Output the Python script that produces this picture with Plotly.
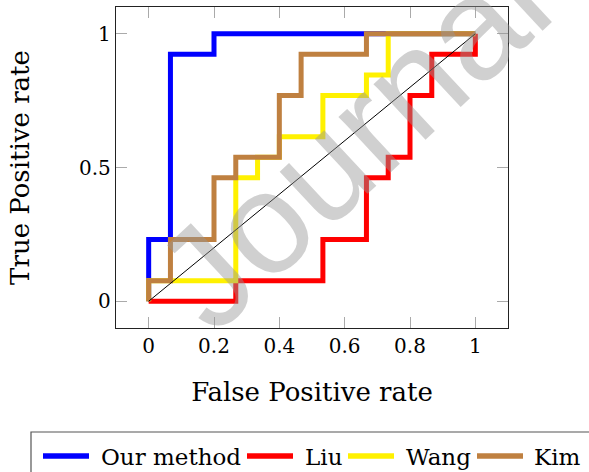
import plotly.graph_objects as go

# ---- data ----
series_names = ["Our method", "Liu", "Wang", "Kim"]
series_colors = ["#0000ff", "#ff0000", "#fff100", "#bf8040"]

ours_fpr = [0, 0, 1/15, 1/15, 3/15, 3/15, 1]
ours_tpr = [0, 3/13, 3/13, 12/13, 12/13, 1, 1]

liu_fpr = [0, 4/15, 4/15, 8/15, 8/15, 10/15, 10/15, 11/15, 11/15, 12/15, 12/15, 13/15, 13/15, 1, 1]
liu_tpr = [0, 0, 1/13, 1/13, 3/13, 3/13, 6/13, 6/13, 7/13, 7/13, 10/13, 10/13, 12/13, 12/13, 1]

wang_fpr = [0, 0, 4/15, 4/15, 5/15, 5/15, 6/15, 6/15, 8/15, 8/15, 10/15, 10/15, 11/15, 11/15, 1]
wang_tpr = [0, 1/13, 1/13, 6/13, 6/13, 7/13, 7/13, 8/13, 8/13, 10/13, 10/13, 11/13, 11/13, 1, 1]

kim_fpr = [0, 0, 1/15, 1/15, 3/15, 3/15, 4/15, 4/15, 6/15, 6/15, 7/15, 7/15, 10/15, 10/15, 1]
kim_tpr = [0, 1/13, 1/13, 3/13, 3/13, 6/13, 6/13, 7/13, 7/13, 10/13, 10/13, 12/13, 12/13, 1, 1]

diag_x = [0, 1]
diag_y = [0, 1]

x_ticks = [0, 0.2, 0.4, 0.6, 0.8, 1]
x_tick_labels = ["0", "0.2", "0.4", "0.6", "0.8", "1"]
y_ticks = [0, 0.5, 1]
y_tick_labels = ["0", "0.5", "1"]

# ---- figure geometry ----
W, H = 589, 472
ML, MR, MT, MB = 116, 81, 7, 144
PW, PH = W - ML - MR, H - MT - MB


def px(xp):
    return (xp - ML) / PW


def py(yp):
    return (H - MB - yp) / PH


SERIF = "DejaVu Serif"

fig = go.Figure()
all_x = [ours_fpr, liu_fpr, wang_fpr, kim_fpr]
all_y = [ours_tpr, liu_tpr, wang_tpr, kim_tpr]
for name, col, xs, ys in zip(series_names, series_colors, all_x, all_y):
    fig.add_trace(go.Scatter(x=xs, y=ys, mode="lines", name=name,
                             line=dict(color=col, width=5), showlegend=False))
fig.add_trace(go.Scatter(x=diag_x, y=diag_y, mode="lines", showlegend=False,
                         line=dict(color="black", width=1)))

axis_common = dict(
    range=[-0.1, 1.1], showgrid=False, zeroline=False,
    showline=True, linecolor="#222", linewidth=1.3, mirror="allticks",
    ticks="inside", ticklen=11, tickcolor="#aaaaaa", tickwidth=1.3,
    tickfont=dict(family=SERIF, size=20, color="black"),
)
fig.update_xaxes(**axis_common, tickvals=x_ticks, ticktext=x_tick_labels,
                 title=dict(text="False Positive rate",
                            font=dict(family=SERIF, size=26, color="black"),
                            standoff=25))
fig.update_yaxes(**axis_common, tickvals=y_ticks, ticktext=y_tick_labels,
                 title=dict(text="True Positive rate",
                            font=dict(family=SERIF, size=26, color="black"),
                            standoff=41))

# ---- manual legend (box runs off the page like the reference) ----
shapes = [dict(type="rect", xref="paper", yref="paper",
               x0=px(31), x1=px(620), y0=py(432), y1=py(500),
               line=dict(color="#555555", width=1.2), fillcolor="white", layer="below")]
annotations = []
legend_line_x = [43, 247, 348, 477]
legend_text_x = [99, 303, 404, 532]
ly = 456
for name, col, lx, tx in zip(series_names, series_colors, legend_line_x, legend_text_x):
    shapes.append(dict(type="line", xref="paper", yref="paper",
                       x0=px(lx), x1=px(lx + 46), y0=py(ly), y1=py(ly),
                       line=dict(color=col, width=5.5)))
    annotations.append(dict(text=name, xref="paper", yref="paper",
                            x=px(tx), y=py(ly + 1), xanchor="left", yanchor="middle",
                            showarrow=False,
                            font=dict(family=SERIF, size=23, color="black")))

# ---- watermark ----
annotations.append(dict(text="Journal", xref="paper", yref="paper",
                        x=px(352), y=py(140), xanchor="center", yanchor="middle",
                        showarrow=False, textangle=-43,
                        font=dict(family="Liberation Sans", size=144,
                                  color="rgba(150,150,150,0.45)")))

fig.update_layout(
    width=W, height=H, margin=dict(l=ML, r=MR, t=MT, b=MB),
    plot_bgcolor="white", paper_bgcolor="white",
    shapes=shapes, annotations=annotations, showlegend=False,
)

fig.write_html("out.html", config={"displayModeBar": False},
               post_script="document.body.style.margin='0';document.body.style.overflow='hidden';")
